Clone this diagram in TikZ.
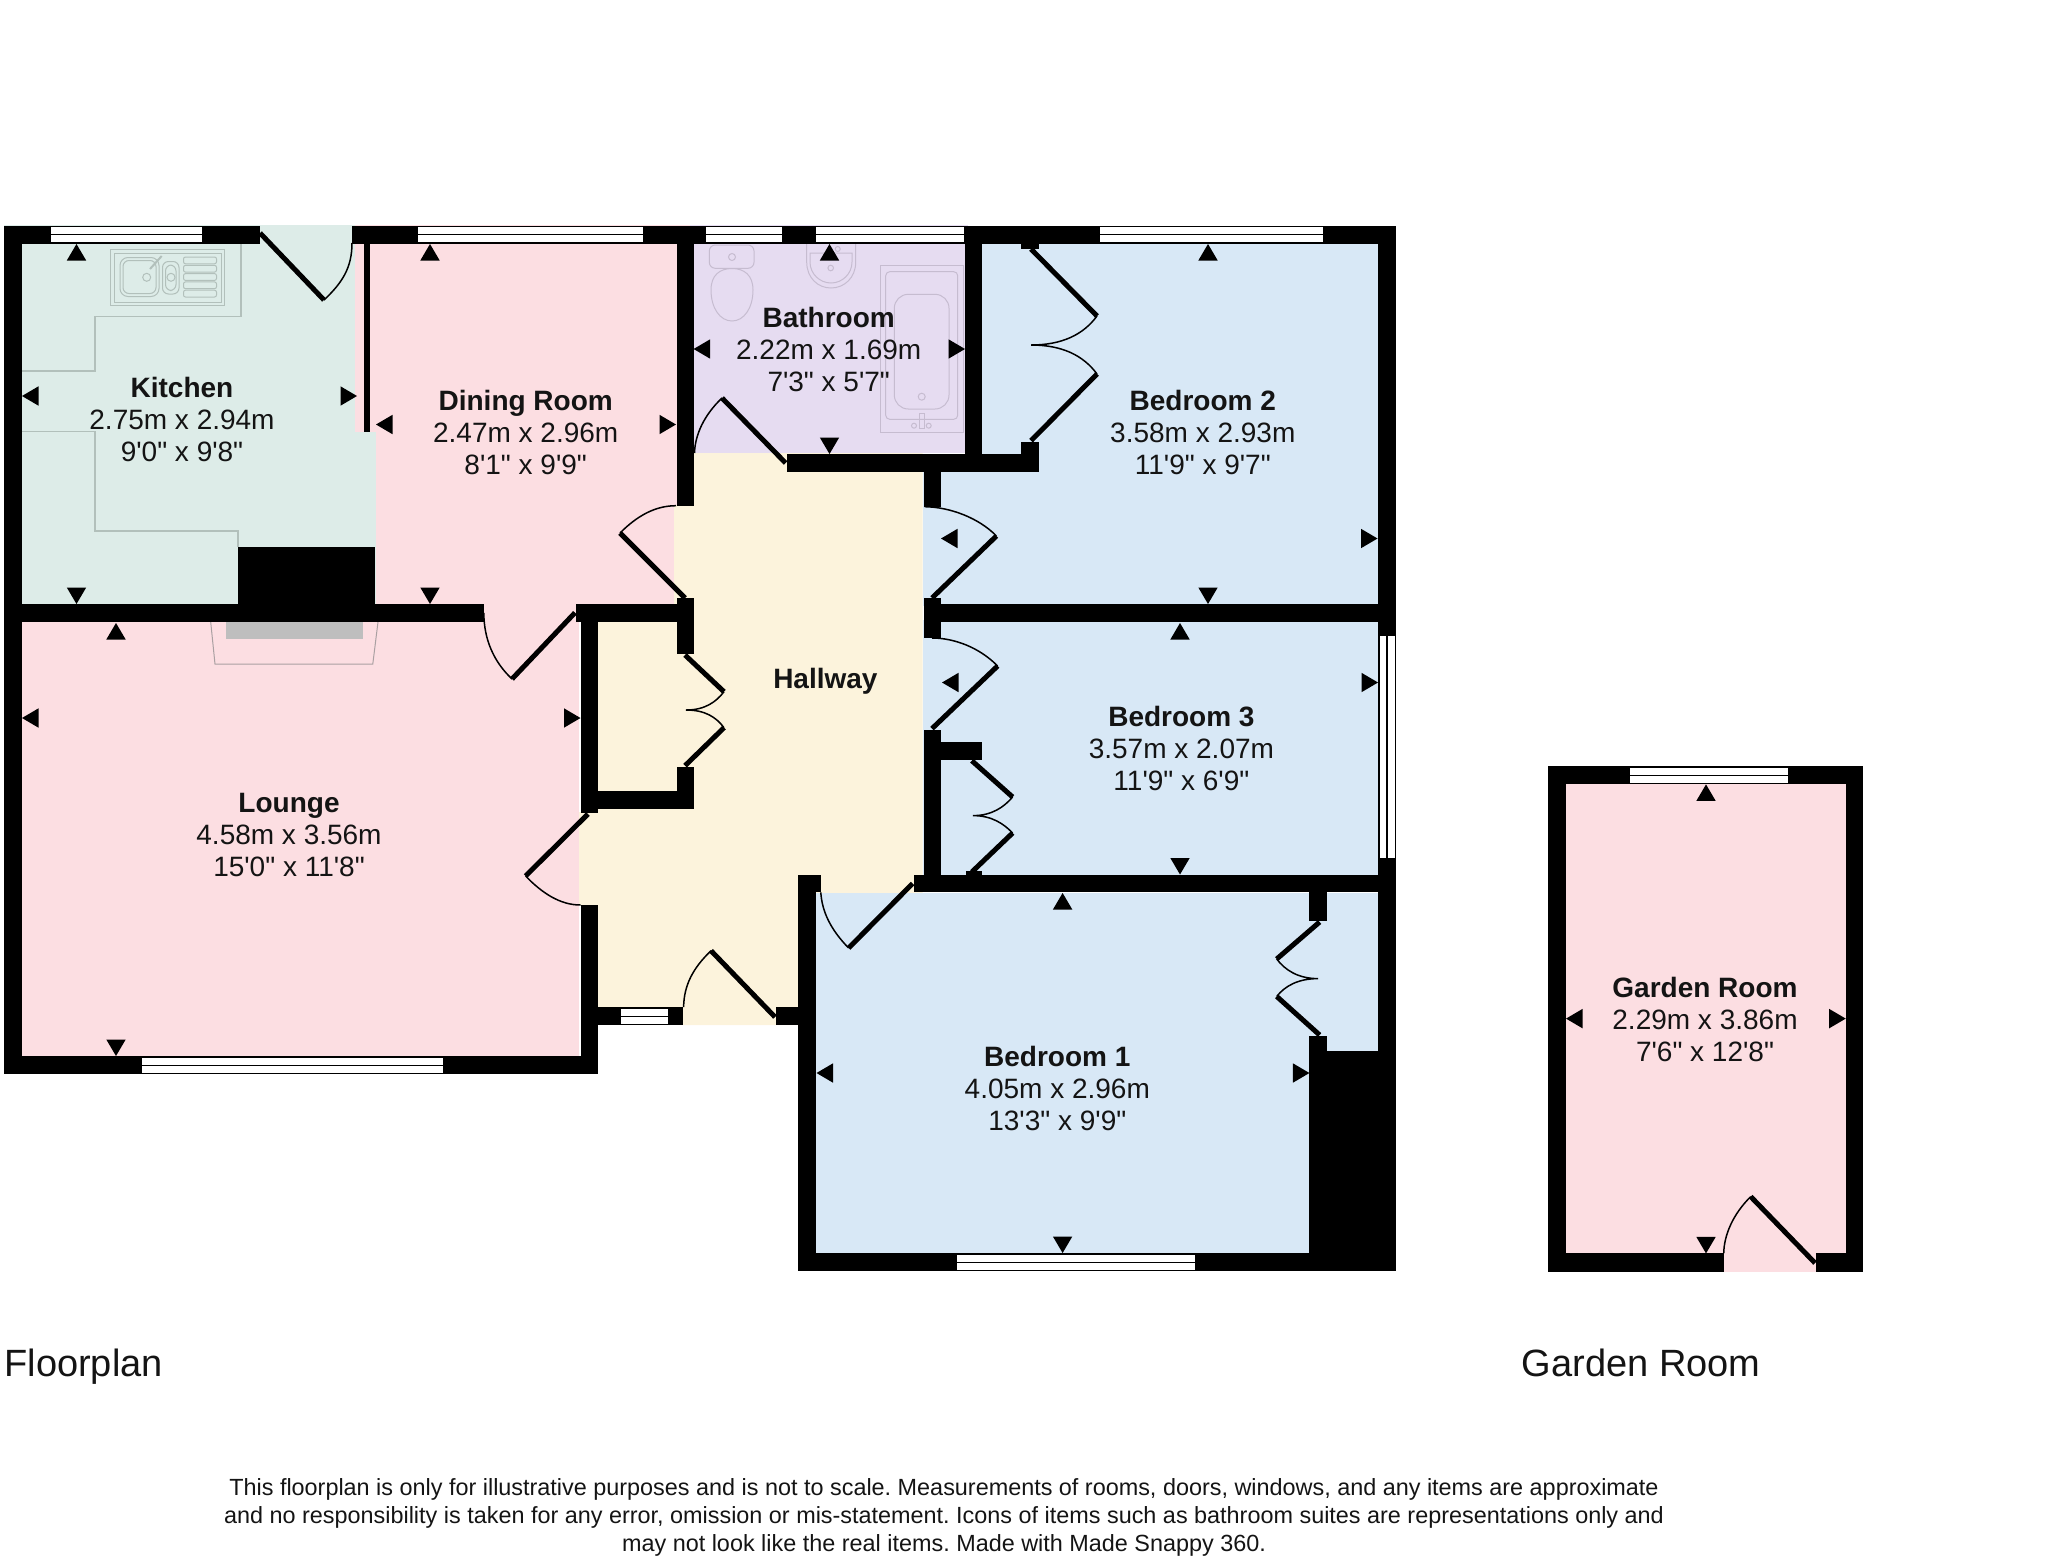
\documentclass[tikz,border=0pt]{standalone}
\usepackage{fontspec}
\setmainfont[Ligatures=TeXOff]{Liberation Sans}
\definecolor{kitchenc}{RGB}{221,236,232}
\definecolor{pinkc}{RGB}{252,222,226}
\definecolor{purplec}{RGB}{230,220,241}
\definecolor{bluec}{RGB}{216,232,246}
\definecolor{yellowc}{RGB}{252,243,220}
\definecolor{kitline}{RGB}{178,192,187}
\definecolor{bathline}{RGB}{198,188,208}
\definecolor{fireline}{RGB}{170,160,162}
\definecolor{firegray}{RGB}{190,190,190}
\newcommand\mkup[2]{\fill[marker] (#1,#2) -- ({#1-9.7},{#2+16.5}) -- ({#1+9.7},{#2+16.5}) -- cycle;}
\newcommand\mkdn[2]{\fill[marker] (#1,#2) -- ({#1-9.7},{#2-16.5}) -- ({#1+9.7},{#2-16.5}) -- cycle;}
\newcommand\mklf[2]{\fill[marker] (#1,#2) -- ({#1+16.5},{#2-9.7}) -- ({#1+16.5},{#2+9.7}) -- cycle;}
\newcommand\mkrt[2]{\fill[marker] (#1,#2) -- ({#1-16.5},{#2-9.7}) -- ({#1-16.5},{#2+9.7}) -- cycle;}
\newcommand\winh[3]{\fill[white] (#1,{#3-7.5}) rectangle (#2,{#3+7.5}); \draw[winline] (#1,#3) -- (#2,#3);}
\newcommand\winv[3]{\fill[white] ({#3-7.5},#1) rectangle ({#3+7.5},#2); \draw[winline] (#3,#1) -- (#3,#2);}
\tikzset{
  wall/.style={fill=black},
  marker/.style={fill=black},
  leaf/.style={draw=black,line width=2.5pt},
  swing/.style={draw=black,line width=0.75pt},
  winline/.style={draw=black,line width=0.6pt},
  kitfix/.style={draw=kitline,line width=0.5pt},
  counter/.style={draw=kitline,line width=0.6pt},
  bathfix/.style={draw=bathline,line width=0.5pt},
  fireout/.style={draw=fireline,line width=0.5pt},
  roomlabel/.style={font=\fontsize{14}{16}\selectfont,align=center,inner sep=0pt,text=black!92},
  caption/.style={font=\fontsize{19}{22}\selectfont,anchor=base west,inner sep=0pt,text=black!92},
  note/.style={font=\fontsize{11.7}{14}\selectfont\frenchspacing,align=center,inner sep=0pt,text=black!92}
}
\begin{document}
\begin{tikzpicture}[x=0.5pt,y=-0.5pt]
\useasboundingbox (0,0) rectangle (2048,1558);
% room colours
\fill[pinkc] (352,225) rectangle (690,622);
\fill[pinkc] (4,604) rectangle (579,1074);
\fill[kitchenc] (4,225) rectangle (355,432);
\fill[kitchenc] (4,432) rectangle (376,610);
\fill[purplec] (690,225) rectangle (968,453);
\fill[yellowc] (694,453) -- (922.5,453) -- (922.5,893) -- (800,893) -- (800,1025) -- (682,1025) -- (682,1007) -- (598,1007) -- (598,905) -- (579,905) -- (579,812) -- (598,812) -- (598,622) -- (674,622) -- (674,505) -- (694,505) -- cycle;
\fill[bluec] (980,243) rectangle (1380,604);
\fill[bluec] (922.5,472) rectangle (1380,606);
\fill[bluec] (922.5,620) rectangle (1380,876);
\fill[bluec] (816,893) rectangle (1380,1051);
\fill[bluec] (816,1051) rectangle (1311,1255);
\fill[pinkc] (1550,768) rectangle (1860,1271.7);
% kitchen fittings
\draw[counter] (241,243) -- (241,316.7) -- (95,316.7) -- (95,371) -- (21.5,371);
\draw[counter] (21.5,431.7) -- (95,431.7) -- (95,531) -- (238,531) -- (238,546.7);
\draw[kitfix] (110.5,249.5) rectangle (224.5,305.5);
\draw[kitfix] (114,253) rectangle (221,302);
\draw[kitfix,rounded corners=4pt] (120,257.5) rectangle (159,296.5);
\draw[kitfix,rounded corners=3pt] (123,260.5) rectangle (156,293.5);
\draw[kitfix,rounded corners=3pt] (162.5,261.5) rectangle (179,294);
\draw[kitfix,rounded corners=3pt] (165.5,265) rectangle (176,290.5);
\foreach \yy in {257,265.3,273.6,281.9,290.2}{\draw[kitfix,rounded corners=1pt] (183.5,\yy) rectangle (216.5,{\yy+6.8});}
\draw[kitfix] (146.7,277.3) circle[radius=4];
\draw[kitfix] (171,277.3) circle[radius=4];
\draw[kitfix,line width=1pt] (150,269) -- (161.7,256);
% fireplace
\draw[fireout] (210.7,622) -- (215,664) -- (372.8,664) -- (378,622);
\fill[firegray] (225.5,622) rectangle (362.5,639);
% bathroom fittings
\draw[bathfix,rounded corners=3pt] (709.3,245) rectangle (754,268.3);
\draw[bathfix] (711,290) .. controls (711,275) and (720,268.5) .. (732,268.5) .. controls (744,268.5) and (753,275) .. (753,290) .. controls (753,308) and (744,321) .. (732,321) .. controls (720,321) and (711,308) .. (711,290) -- cycle;
\draw[bathfix] (732,257) circle[radius=3.5];
\draw[bathfix] (806.7,244) -- (806.7,262) .. controls (806.7,278) and (818,288) .. (831,288) .. controls (844,288) and (855.7,278) .. (855.7,262) -- (855.7,244);
\draw[bathfix] (810,253) -- (810,262) .. controls (810,274) and (820,283) .. (831,283) .. controls (842,283) and (852,274) .. (852,262) -- (852,253) -- cycle;
\draw[bathfix] (830.7,268) circle[radius=2.8];
\draw[bathfix] (837.7,249) circle[radius=2.5];
\draw[bathfix] (880,265.7) rectangle (963,432.3);
\draw[bathfix,rounded corners=2pt] (885.7,271.7) rectangle (957.7,419.3);
\draw[bathfix,rounded corners=7pt] (894.3,294.3) rectangle (949,409);
\draw[bathfix] (921.7,396.7) circle[radius=3.5];
\draw[bathfix] (919.3,413.3) rectangle (924,428);
\draw[bathfix] (914,425.7) circle[radius=2.5];
\draw[bathfix] (928.7,425.7) circle[radius=2.5];
% walls
\fill[wall] (4,225.5) rectangle (259.5,243.5);
\fill[wall] (352,225.5) rectangle (1395.5,243.5);
\fill[wall] (4,225.5) rectangle (21.5,1074);
\fill[wall] (4,604.3) rectangle (483.5,622.3);
\fill[wall] (576,604.3) rectangle (694,622.3);
\fill[wall] (238,546.7) rectangle (375,604.3);
\fill[wall] (363.5,243) rectangle (369.6,432);
\fill[wall] (676.5,225.5) rectangle (693.6,505.7);
\fill[wall] (676.5,598) rectangle (694,654);
\fill[wall] (786.5,454) rectangle (1039,472.3);
\fill[wall] (965,225.5) rectangle (982,454);
\fill[wall] (1021.4,441.7) rectangle (1039,454);
\fill[wall] (1021.4,243) rectangle (1039,249);
\fill[wall] (924,472) rectangle (941,506.7);
\fill[wall] (924,598) rectangle (941,638);
\fill[wall] (924,604.3) rectangle (1395.5,622.3);
\fill[wall] (1377.5,225.5) rectangle (1395.5,1271);
\fill[wall] (924,729.5) rectangle (941,892);
\fill[wall] (941,742) rectangle (982,760);
\fill[wall] (965.7,871) rectangle (982,875);
\fill[wall] (913.5,874.5) rectangle (1395.5,892.4);
\fill[wall] (798.4,892) rectangle (816,1271);
\fill[wall] (798.4,874.5) rectangle (820.8,892.4);
\fill[wall] (798.4,1253) rectangle (1395.5,1271);
\fill[wall] (1309.4,892) rectangle (1327,921);
\fill[wall] (1309.4,1036) rectangle (1327,1051);
\fill[wall] (1309.4,1051) rectangle (1395.5,1271);
\fill[wall] (776,1007) rectangle (799,1025);
\fill[wall] (580.5,905) rectangle (598,1074);
\fill[wall] (575.5,604.3) rectangle (598,622.3);
\fill[wall] (580.5,604.3) rectangle (598,812.7);
\fill[wall] (4,1056) rectangle (598,1074);
\fill[wall] (598,1007) rectangle (682.5,1025);
\fill[wall] (580.5,791) rectangle (694,808.7);
\fill[wall] (676.8,622) rectangle (694,654);
\fill[wall] (676.8,766.7) rectangle (694,808.7);
% garden room walls
\fill[wall] (1547.7,766.2) rectangle (1863.3,784.4);
\fill[wall] (1547.7,766.2) rectangle (1565.7,1271.7);
\fill[wall] (1845.7,766.2) rectangle (1863.3,1271.7);
\fill[wall] (1547.7,1253.4) rectangle (1723.7,1271.7);
\fill[wall] (1816,1253.4) rectangle (1863.3,1271.7);
% windows
\winh{51}{202}{234.5}
\winh{418}{643}{234.5}
\winh{706}{782}{234.5}
\winh{816}{963.5}{234.5}
\winh{1100}{1323}{234.5}
\winh{142}{443}{1065.5}
\winh{621}{668}{1016.5}
\winh{957}{1195}{1262.8}
\winv{635.7}{858}{1387}
\winh{1630.3}{1788.3}{775.5}
% doors
\draw[leaf] (260,233) -- (324,300);
\draw[swing] (324,300) .. controls (342,283) and (352,268) .. (352,243);
\draw[leaf] (685,598) -- (620,533);
\draw[swing] (620,533) .. controls (637,516) and (655,505.7) .. (676,505.7);
\draw[leaf] (575,612.7) -- (512,679);
\draw[swing] (512,679) .. controls (494,662) and (484,640) .. (483.8,613);
\draw[leaf] (588,814) -- (525.6,876);
\draw[swing] (525.6,876) .. controls (542,893) and (560,905) .. (580.5,905);
\draw[leaf] (775,1017) -- (711,950.7);
\draw[swing] (711,950.7) .. controls (693,968) and (684,985) .. (683.6,1007);
\draw[leaf] (785.6,463) -- (722,398);
\draw[swing] (722,398) .. controls (704,415) and (695,435) .. (694.5,453);
\draw[leaf] (932,598) -- (996.4,536);
\draw[swing] (996.4,536) .. controls (979,518) and (950,507) .. (924.7,506.7);
\draw[leaf] (932,728.6) -- (997.6,666);
\draw[swing] (997.6,666) .. controls (980,648) and (955,638) .. (932,638);
\draw[leaf] (912.6,883.5) -- (848.6,948);
\draw[swing] (848.6,948) .. controls (831,930) and (822,912) .. (820.8,892.4);
\draw[leaf] (1815,1263) -- (1750.7,1196.6);
\draw[swing] (1750.7,1196.6) .. controls (1733,1214) and (1724,1235) .. (1723.7,1253.4);
% closet double doors
\draw[leaf] (1031,249) -- (1097,316);
\draw[swing] (1097,316) .. controls (1083,335) and (1061.5,345) .. (1031,345) .. controls (1061.5,345) and (1083,355) .. (1097,374);
\draw[leaf] (1097,374) -- (1031,440.7);
\draw[leaf] (685,655) -- (724,691.7);
\draw[swing] (724,691.7) .. controls (716,702) and (705,710) .. (686,710) .. controls (705,710) and (716,717) .. (724,727.7);
\draw[leaf] (724,727.7) -- (685,765.7);
\draw[leaf] (971.8,760.7) -- (1012.6,797);
\draw[swing] (1012.6,797) .. controls (1004,807) and (992,815.6) .. (973,815.6) .. controls (992,815.6) and (1004,824) .. (1012.6,833);
\draw[leaf] (1012.6,833) -- (971.8,872);
\draw[leaf] (1319.6,922) -- (1276.7,959);
\draw[swing] (1276.7,959) .. controls (1285,970) and (1298,978.6) .. (1318,978.6) .. controls (1298,978.6) and (1285,986) .. (1276.7,996.4);
\draw[leaf] (1276.7,996.4) -- (1319.6,1035);
% measure markers
\mkup{76.5}{244}\mkdn{76.5}{604}\mklf{22}{396}\mkrt{357}{396}
\mkup{430}{244}\mkdn{430}{604}\mklf{376}{424.5}\mkrt{676}{424.5}
\mkup{116}{623}\mkdn{116}{1056}\mklf{22}{718}\mkrt{580.5}{718}
\mkup{829.5}{244}\mkdn{829.5}{454}\mklf{693.6}{349}\mkrt{965}{349}
\mkup{1208}{244}\mkdn{1208}{604}\mklf{941}{538.5}\mkrt{1377.5}{538.5}
\mkup{1180}{623}\mkdn{1180}{874.5}\mklf{942}{682.5}\mkrt{1378}{682.5}
\mkup{1062.6}{893}\mkdn{1062.6}{1253}\mklf{816.5}{1073}\mkrt{1309.4}{1073}
\mkup{1706}{784.4}\mkdn{1706}{1253.4}\mklf{1566}{1018.6}\mkrt{1845.7}{1018.6}
% labels
\node[roomlabel] (kitchen) at (182,419) {\textbf{Kitchen}\\2.75m x 2.94m\\9'0" x 9'8"};
\node[roomlabel] (dining) at (525.7,432.2) {\textbf{Dining Room}\\2.47m x 2.96m\\8'1" x 9'9"};
\node[roomlabel] (bathroom) at (828.7,349) {\textbf{Bathroom}\\2.22m x 1.69m\\7'3" x 5'7"};
\node[roomlabel] (bedtwo) at (1202.8,432.2) {\textbf{Bedroom 2}\\3.58m x 2.93m\\11'9" x 9'7"};
\node[roomlabel] (hallway) at (825.4,681) {\textbf{Hallway}};
\node[roomlabel] (bedthree) at (1181.4,748.7) {\textbf{Bedroom 3}\\3.57m x 2.07m\\11'9" x 6'9"};
\node[roomlabel] (bedone) at (1057.3,1088.8) {\textbf{Bedroom 1}\\4.05m x 2.96m\\13'3" x 9'9"};
\node[roomlabel] (lounge) at (289,835) {\textbf{Lounge}\\4.58m x 3.56m\\15'0" x 11'8"};
\node[roomlabel] (garden) at (1705,1019.3) {\textbf{Garden Room}\\2.29m x 3.86m\\7'6" x 12'8"};
\node[caption] (capfloor) at (4,1376) {Floorplan};
\node[caption] (capgarden) at (1521.5,1376) {Garden Room};
\node[note] (disclaimer) at (944,1517.5) {This floorplan is only for illustrative purposes and is not to scale. Measurements of rooms, doors, windows, and any items are approximate\\and no responsibility is taken for any error, omission or mis-statement. Icons of items such as bathroom suites are representations only and\\may not look like the real items. Made with Made Snappy 360.};
\end{tikzpicture}
\end{document}
